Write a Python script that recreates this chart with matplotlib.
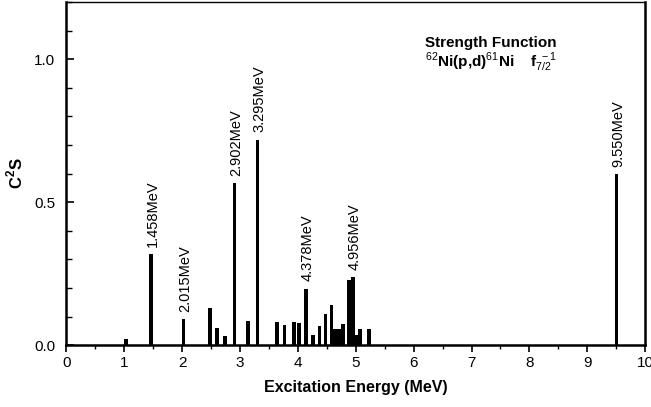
import matplotlib
matplotlib.use("Agg")
import matplotlib.pyplot as plt
from matplotlib.ticker import MultipleLocator

plt.rcParams['font.family'] = ['Liberation Sans', 'DejaVu Sans']
plt.rcParams['mathtext.fontset'] = 'custom'
plt.rcParams['mathtext.rm'] = 'Liberation Sans'
plt.rcParams['mathtext.bf'] = 'Liberation Sans:bold'

# Excitation energies (MeV) and spectroscopic strengths C^2S
energies = [1.03, 1.46, 2.02, 2.48, 2.60, 2.74, 2.91, 3.14, 3.30,
            3.64, 3.77, 3.93, 4.02, 4.14, 4.26, 4.37, 4.48, 4.58,
            4.64, 4.69, 4.73, 4.78, 4.88, 4.95, 5.01, 5.07, 5.23, 9.51]
strengths = [0.023, 0.318, 0.090, 0.129, 0.059, 0.032, 0.568, 0.083, 0.719,
             0.081, 0.070, 0.081, 0.076, 0.198, 0.037, 0.066, 0.108, 0.139,
             0.055, 0.055, 0.057, 0.074, 0.228, 0.239, 0.037, 0.056, 0.056, 0.597]

# Labelled peaks: label text and index of the bar it sits on
peak_labels = ["1.458MeV", "2.015MeV", "2.902MeV", "3.295MeV",
               "4.378MeV", "4.956MeV", "9.550MeV"]
peak_index = [1, 2, 6, 8, 13, 23, 27]

x_ticks = [0, 1, 2, 3, 4, 5, 6, 7, 8, 9, 10]
y_ticks = [0.0, 0.5, 1.0]
y_ticklabels = ["0.0", "0.5", "1.0"]

fig = plt.figure(figsize=(6.51, 4.07), dpi=100)
ax = fig.add_axes([0.102, 0.152, 0.889, 0.843])

ax.bar(energies, strengths, width=0.058, color='black', align='center')

for lab, i in zip(peak_labels, peak_index):
    ax.text(energies[i] + 0.03, strengths[i] + 0.025, lab, rotation=90,
            ha='center', va='bottom', fontsize=10.5)

ax.set_xlim(0, 10)
ax.set_ylim(0, 1.2)
ax.set_xticks(x_ticks)
ax.set_xticklabels([str(t) for t in x_ticks])
ax.xaxis.set_minor_locator(MultipleLocator(0.5))
ax.set_yticks(y_ticks)
ax.set_yticklabels(y_ticklabels)
ax.yaxis.set_minor_locator(MultipleLocator(0.1))

ax.tick_params(axis='x', which='major', direction='out', length=5, width=1.2,
               labelsize=11, pad=3)
ax.tick_params(axis='x', which='minor', direction='out', length=3, width=1.0)
ax.tick_params(axis='y', which='major', direction='in', length=6, width=1.2,
               labelsize=11, pad=8)
ax.tick_params(axis='y', which='minor', direction='in', length=4, width=1.0)

for side in ['left', 'bottom', 'right']:
    ax.spines[side].set_linewidth(1.8)
ax.spines['top'].set_linewidth(1.0)

ax.set_xlabel("Excitation Energy (MeV)", fontsize=11.5, fontweight='bold',
              labelpad=7)
ax.set_ylabel(r"C$^{\mathbf{2}}$S", fontsize=12, fontweight='bold', labelpad=6)

ax.text(6.2, 1.056, "Strength Function", fontsize=11, fontweight='bold',
        ha='left', va='center')
ax.text(6.2, 0.99, r"$^{62}$Ni(p,d)$^{61}$Ni    f$_{7/2}^{\ -1}$",
        fontsize=11, fontweight='bold', ha='left', va='center')

fig.savefig("out.png", dpi=100)
